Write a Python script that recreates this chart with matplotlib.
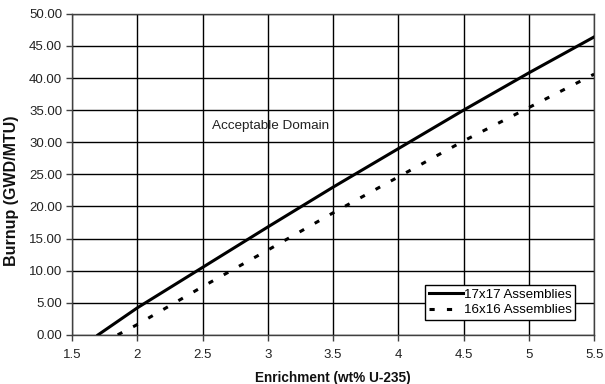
import matplotlib
matplotlib.use("Agg")
import matplotlib.pyplot as plt
import numpy as np

plt.rcParams['font.family'] = ['Liberation Sans', 'DejaVu Sans']

# Minimum burnup curves vs. initial enrichment
enrich_17 = [1.70, 2.0, 2.5, 3.0, 3.5, 4.0, 4.5, 5.0, 5.5]
burnup_17 = [0.0, 4.2, 10.5, 16.8, 23.0, 29.0, 35.0, 40.8, 46.4]

enrich_16 = [1.85, 2.0, 2.5, 3.0, 3.5, 4.0, 4.5, 5.0, 5.5]
burnup_16 = [0.0, 1.6, 7.5, 13.2, 19.0, 24.6, 30.2, 35.4, 40.6]

x_ticks = [1.5, 2, 2.5, 3, 3.5, 4, 4.5, 5, 5.5]
x_labels = ["1.5", "2", "2.5", "3", "3.5", "4", "4.5", "5", "5.5"]
y_ticks = [0, 5, 10, 15, 20, 25, 30, 35, 40, 45, 50]

fig = plt.figure(figsize=(6.05, 3.84), dpi=100)
ax = fig.add_axes([0.119, 0.128, 0.863, 0.836])

ax.plot(enrich_17, burnup_17, color='black', lw=2.2, label='17x17 Assemblies', zorder=3)
ax.plot(enrich_16, burnup_16, color='black', lw=2.2, linestyle=(0, (1.7, 4.0)),
        label='16x16 Assemblies', zorder=3)

ax.set_xlim(1.5, 5.5)
ax.set_ylim(0, 50)
ax.set_xticks(x_ticks)
ax.set_xticklabels(x_labels)
ax.set_yticks(y_ticks)
ax.set_yticklabels([f"{v:.2f}" for v in y_ticks])
ax.grid(True, color='black', lw=1.0)
ax.set_axisbelow(True)
for s in ax.spines.values():
    s.set_color('#404040')
    s.set_linewidth(1.0)
ax.tick_params(axis='both', direction='out', length=4, width=1, color='#404040',
               labelsize=9.5, labelcolor='#222222')
ax.tick_params(axis='x', pad=6)
ax.tick_params(axis='y', pad=3)

ax.set_xlabel('Enrichment (wt% U-235)', fontsize=9.8, fontweight='bold', color='#111111')
ax.xaxis.set_label_coords(0.5, -0.112)
ax.set_ylabel('Burnup (GWD/MTU)', fontsize=11.5, fontweight='bold', color='#111111')
ax.yaxis.set_label_coords(-0.1015, 0.449)

ax.text(2.57, 32.5, 'Acceptable Domain', fontsize=9.7, color='#222222', va='center', ha='left')

leg = ax.legend(loc='lower right', bbox_to_anchor=(0.9636, 0.047), fontsize=9.6,
                frameon=True, fancybox=False, framealpha=1, edgecolor='black',
                handlelength=2.55, handletextpad=0.1, borderpad=0.25, labelspacing=0.25,
                borderaxespad=0)
leg.get_frame().set_linewidth(1.0)

fig.savefig('out.png', dpi=100)
